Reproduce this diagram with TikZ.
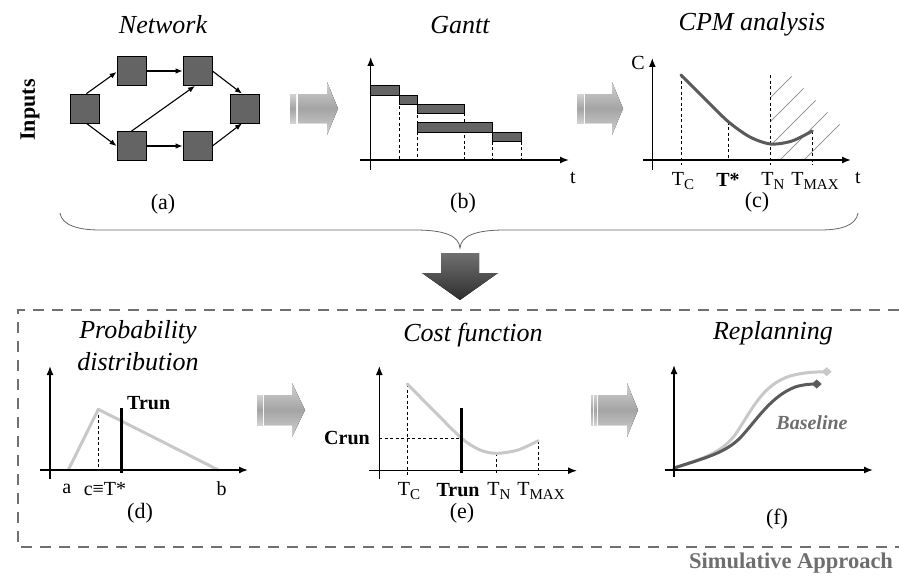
\documentclass[tikz,border=0pt]{standalone}
\usepackage{fontspec}
\setmainfont{Liberation Serif}
\usetikzlibrary{arrows.meta,shapes.geometric}
\definecolor{boxgray}{HTML}{646464}
\definecolor{curvedark}{HTML}{5A5A5A}
\definecolor{curvelight}{HTML}{C8C8C8}
\definecolor{framegray}{HTML}{707070}
\definecolor{txtgray}{HTML}{6E6E6E}
\definecolor{arrlight}{HTML}{D2D2D2}
\definecolor{arrmid}{HTML}{A4A4A4}
\definecolor{bigtop}{HTML}{707070}
\definecolor{bigbot}{HTML}{2E2E2E}
\definecolor{bracegray}{HTML}{666666}
\definecolor{hatchgray}{HTML}{9A9A9A}
\newcommand{\sbx}[1]{\raisebox{-0.45ex}{\fontsize{15}{15}\selectfont #1}}
\begin{document}
\begin{tikzpicture}[x=1pt,y=-1pt,
  title/.style={font=\fontsize{26}{32}\selectfont\itshape, inner sep=0, align=center},
  lab/.style={font=\fontsize{22}{24}\selectfont, inner sep=0},
  alab/.style={font=\fontsize{20}{22}\selectfont, inner sep=0},
  axis/.style={line width=1.4pt, -{Latex[length=9pt,width=7pt]}},
  dsh/.style={line width=0.8pt, dash pattern=on 3pt off 2.5pt},
  netbox/.style={draw=black, line width=0.8pt, fill=boxgray, minimum size=29pt, inner sep=0},
  netarr/.style={line width=1.1pt, -{Latex[length=7pt,width=5.5pt]}},
  ganttbar/.style={draw=black, line width=0.9pt, fill=boxgray},
  garrow/.style={top color=arrlight, bottom color=arrlight, middle color=arrmid, draw=none},
  runline/.style={line width=2.5pt},
  darkcurve/.style={draw=curvedark, line width=3pt, line cap=round},
  lightcurve/.style={draw=curvelight, line width=3pt, line cap=round, line join=round},
  hatchline/.style={draw=hatchgray, line width=0.8pt},
  frame/.style={draw=framegray, line width=1.8pt, dash pattern=on 11pt off 8pt}
]
\useasboundingbox (0,0) rectangle (899,578);

% ---------------- titles ----------------
\node[title] (tnet) at (163,25) {Network};
\node[title] (tgantt) at (460,25) {Gantt};
\node[title] (tcpm) at (752,24) {CPM analysis};
\node[font=\fontsize{22}{24}\selectfont\bfseries, rotate=90, inner sep=0] (inputs) at (30,110) {Inputs};

% ---------------- (a) network ----------------
\node[netbox] (B1) at (84.5,108.5) {};
\node[netbox] (B2) at (131.5,71) {};
\node[netbox] (B3) at (197.5,71) {};
\node[netbox] (B4) at (245,108.5) {};
\node[netbox] (B5) at (131.5,146) {};
\node[netbox] (B6) at (197.5,146) {};
\draw[netarr] ([xshift=2pt]B1.north) -- ([yshift=-1pt]B2.west);
\draw[netarr] ([xshift=2pt]B1.south) -- (B5.west);
\draw[netarr] (B2) -- (B3);
\draw[netarr] (B5) -- (B6);
\draw[netarr] (B5.north) -- ([xshift=-2.5pt]B3.south);
\draw[netarr] (B3.east) -- ([xshift=-3pt]B4.north);
\draw[netarr] (B6.east) -- ([xshift=-3pt]B4.south);
\node[lab] (la) at (163,204) {(a)};

% ---------------- (b) gantt ----------------
\draw[dsh] (399.3,95) -- (399.3,160);
\draw[dsh] (417.7,104.3) -- (417.7,160);
\draw[dsh] (464.3,113.3) -- (464.3,160);
\draw[dsh] (492.7,141.7) -- (492.7,160);
\draw[dsh] (521,141.7) -- (521,160);
\draw[ganttbar] (370.7,85) rectangle (399.3,95);
\draw[ganttbar] (399.3,95) rectangle (417.7,104.3);
\draw[ganttbar] (417.7,104.3) rectangle (464.3,113.3);
\draw[ganttbar] (417.7,122.7) rectangle (492.7,132.3);
\draw[ganttbar] (492.7,132.3) rectangle (521,141.7);
\draw[axis] (370.7,170) -- (370.7,57);
\draw[axis] (360,160) -- (569,160);
\node[alab] (tb) at (573,178) {t};
\node[lab] (lb) at (463,203) {(b)};

% ---------------- (c) CPM ----------------
\begin{scope}
  \clip (770.7,75) -- (790,75) -- (842,127) -- (842,160) -- (770.7,160) -- cycle;
  \foreach \s in {708,732,756,780,804} \draw[hatchline] (\s,160) -- ++(110,-110);
\end{scope}
\draw[dsh] (681,75) -- (681,165);
\draw[dsh] (728.3,121.7) -- (728.3,160);
\draw[dsh] (770.7,75) -- (770.7,165);
\draw[dsh] (812.3,131) -- (812.3,165);
\draw[darkcurve] plot[smooth] coordinates {(681,75) (705,99) (728.3,121.7) (750,137) (770.7,144) (792,141) (812.3,131)};
\draw[axis] (652.3,170) -- (652.3,58);
\draw[axis] (643,160) -- (851,160);
\node[alab] (cC) at (638,63) {C};
\node[alab] (cTC) at (683,181) {T\sbx{C}};
\node[alab, font=\fontsize{20}{22}\selectfont\bfseries] (cTs) at (728,180) {T*};
\node[alab] (cTN) at (773,181) {T\sbx{N}};
\node[alab] (cTM) at (815,181) {T\sbx{MAX}};
\node[alab] (ct) at (858,178) {t};
\node[lab] (lc) at (757,202) {(c)};

% ---------------- horizontal arrows (top) ----------------
\fill[garrow] (290,94) rectangle (296,123);
\fill[garrow] (298,94) -- (327,94) -- (327,82) -- (338,108.5) -- (327,135) -- (327,123) -- (298,123) -- cycle;
\fill[garrow] (577,94) rectangle (584,123);
\fill[garrow] (585,94) -- (612,94) -- (612,82) -- (623,108.5) -- (612,135) -- (612,123) -- (585,123) -- cycle;

% ---------------- brace and big arrow ----------------
\draw[bracegray, line width=0.8pt] (60,213) .. controls (62,226) and (80,230) .. (100,230) -- (415,230)
  .. controls (445,230) and (459,236) .. (460,248)
  .. controls (461,236) and (475,230) .. (505,230) -- (820,230)
  .. controls (840,230) and (856,226) .. (858,213);
\fill[top color=bigtop, bottom color=bigbot] (441,253) -- (479,253) -- (479,273) -- (498,273) -- (460,300) -- (422,273) -- (441,273) -- cycle;

% ---------------- frame ----------------
\draw[frame] (899,310) -- (18,310) -- (18,547) -- (899,547);
\node[font=\fontsize{22.5}{24}\selectfont\bfseries, text=txtgray, inner sep=0] (simap) at (791,563) {Simulative Approach};

% ---------------- (d) probability ----------------
\node[title] (tprob) at (138,346) {Probability\\distribution};
\draw[dsh] (98.3,409.3) -- (98.3,470);
\draw[lightcurve] (68.3,470) -- (98.3,409.3) -- (218.3,470);
\draw[runline] (121.7,407.7) -- (121.7,473);
\draw[axis] (50,479) -- (50,366);
\draw[axis] (40,470) -- (248,470);
\node[alab, font=\fontsize{20}{22}\selectfont\bfseries, anchor=west] (dtrun) at (127,403) {Trun};
\node[alab] (da) at (66.7,489) {a};
\node[alab] (dc) at (105,489) {c≡T*};
\node[alab] (db) at (221.7,489) {b};
\node[lab] (ld) at (140,513) {(d)};

% ---------------- (e) cost function ----------------
\node[title] (tcost) at (473,335) {Cost function};
\draw[dsh] (407.3,384) -- (407.3,475);
\draw[dsh] (496.7,453.3) -- (496.7,475);
\draw[dsh] (538.3,440.7) -- (538.3,475);
\draw[dsh] (379.3,438.3) -- (461.7,438.3);
\draw[lightcurve] plot[smooth] coordinates {(407.3,384) (435,412) (461.7,438.3) (480,450) (496.7,453.3) (518,450) (538.3,440.7)};
\draw[runline] (461.7,407.7) -- (461.7,473);
\draw[axis] (379.3,479) -- (379.3,366);
\draw[axis] (369,470.7) -- (577,470.7);
\node[alab, font=\fontsize{20}{22}\selectfont\bfseries, anchor=east] (ecrun) at (370,438.3) {Crun};
\node[alab] (eTC) at (409,491) {T\sbx{C}};
\node[alab, font=\fontsize{20}{22}\selectfont\bfseries] (etrun) at (458,490) {Trun};
\node[alab] (eTN) at (499,491) {T\sbx{N}};
\node[alab] (eTM) at (541,491) {T\sbx{MAX}};
\node[lab] (le) at (462,513) {(e)};

% ---------------- horizontal arrows (bottom) ----------------
\fill[garrow] (257,395) rectangle (263,425);
\fill[garrow] (264,395) -- (292,395) -- (292,383) -- (305,410) -- (292,437) -- (292,425) -- (264,425) -- cycle;
\fill[garrow] (591,395) rectangle (593,425);
\fill[garrow] (594,395) rectangle (597,425);
\fill[garrow] (598,395) -- (627,395) -- (627,383) -- (638,410) -- (627,437) -- (627,425) -- (598,425) -- cycle;

% ---------------- (f) replanning ----------------
\node[title] (trep) at (773,333) {Replanning};
\draw[lightcurve] (674,468) .. controls (705,458) and (722,452) .. (735,435)
  .. controls (752,410) and (762,385) .. (790,376) .. controls (805,372) and (815,372) .. (826.7,371.7);
\fill[curvelight] (826.7,371.7) ++(-5,0) -- ++(5,-4.5) -- ++(5,4.5) -- ++(-5,4.5) -- cycle;
\draw[darkcurve] (674,468) .. controls (705,458) and (725,453) .. (740,438)
  .. controls (757,420) and (770,397) .. (795,387) .. controls (803,384.5) and (810,384) .. (816.7,384);
\fill[curvedark] (816.7,384) ++(-5,0) -- ++(5,-4.5) -- ++(5,4.5) -- ++(-5,4.5) -- cycle;
\draw[axis] (674,477) -- (674,365);
\draw[axis] (665,470) -- (873,470);
\node[font=\fontsize{20}{22}\selectfont\bfseries\itshape, text=txtgray, inner sep=0] (fbase) at (812,423) {Baseline};
\node[lab] (lf) at (777,519) {(f)};
\end{tikzpicture}
\end{document}
